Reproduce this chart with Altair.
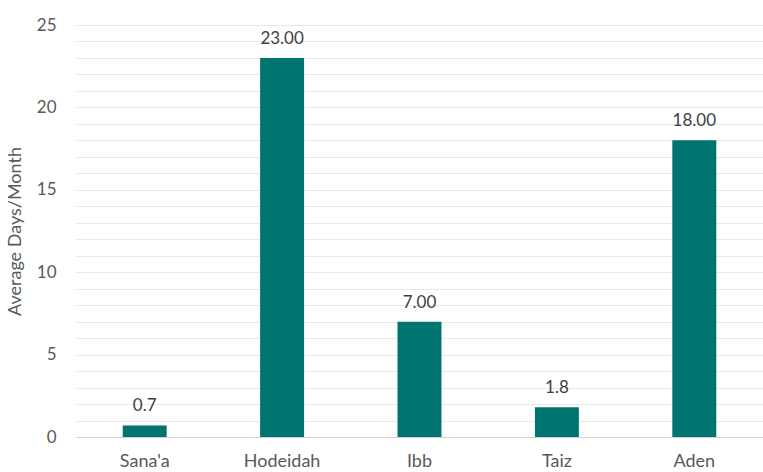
import altair as alt
import pandas as pd

# Average days per month by governorate
cities = ["Sana'a", "Hodeidah", "Ibb", "Taiz", "Aden"]
days = [0.7, 23.0, 7.0, 1.8, 18.0]
labels = ["0.7", "23.00", "7.00", "1.8", "18.00"]
grid_values = list(range(0, 26))

df = pd.DataFrame({"city": cities, "days": days, "label": labels})

FONT = "Lato"
AXIS_TEXT = "#595959"
VALUE_TEXT = "#404040"

x = alt.X(
    "city:N",
    sort=cities,
    title=None,
    scale=alt.Scale(paddingInner=0.68, paddingOuter=0.34),
    axis=alt.Axis(
        labelAngle=0,
        labelFontSize=18,
        labelFont=FONT,
        labelColor=AXIS_TEXT,
        labelPadding=15,
        ticks=False,
        grid=False,
        domainColor="#d0d0d0",
        domainWidth=1,
    ),
)

y = alt.Y(
    "days:Q",
    title="Average Days/Month",
    scale=alt.Scale(domain=[0, 25], nice=False),
    axis=alt.Axis(
        values=grid_values,
        labelExpr="datum.value % 5 == 0 ? datum.label : ''",
        labelOverlap=False,
        labelFontSize=17,
        labelFont=FONT,
        labelColor=AXIS_TEXT,
        labelPadding=20,
        ticks=False,
        domain=False,
        gridColor="#e9e9e9",
        gridWidth=1,
        titleFont=FONT,
        titleFontSize=18,
        titleFontWeight="normal",
        titleColor=AXIS_TEXT,
        titlePadding=12,
    ),
)

base = alt.Chart(df).encode(x=x, y=y)

bars = base.mark_bar(color="#007471")

text = base.mark_text(
    baseline="alphabetic", dy=-14, fontSize=17, font=FONT, color=VALUE_TEXT
).encode(text="label:N")

chart = (
    alt.layer(bars, text)
    .properties(
        width=687,
        height=412,
        background="white",
        autosize=alt.AutoSizeParams(type="none"),
        padding={"left": 76, "top": 25, "right": 0, "bottom": 35},
    )
    .configure_view(strokeWidth=0, stroke="transparent")
)

chart.save("out.html", embed_options={"renderer": "svg", "actions": False})
